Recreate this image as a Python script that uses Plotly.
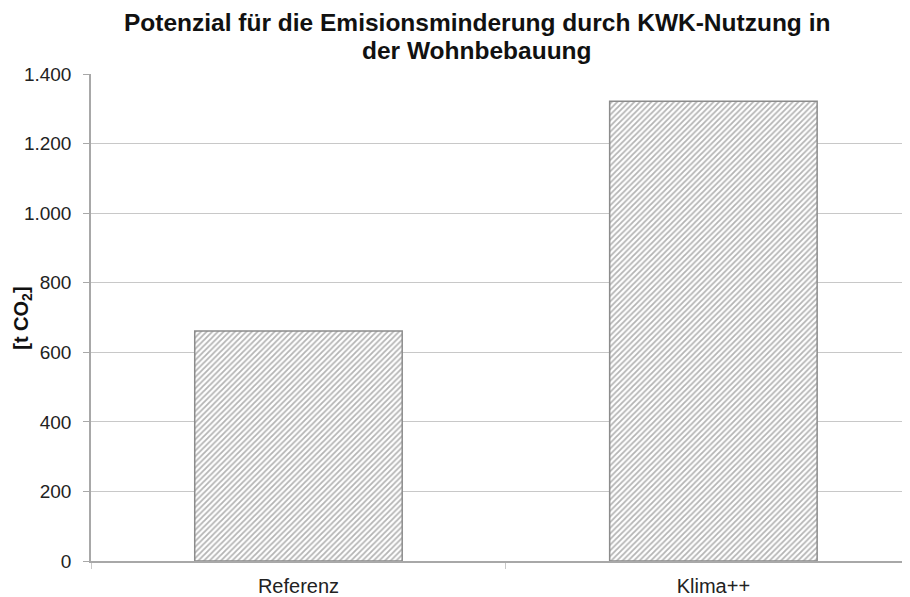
import plotly.graph_objects as go

categories = ["Referenz", "Klima++"]
values = [661, 1322]
y_ticks = [0, 200, 400, 600, 800, 1000, 1200, 1400]
title_lines = ["Potenzial für die Emisionsminderung durch KWK-Nutzung in", "der Wohnbebauung"]

fig = go.Figure()
fig.add_trace(go.Bar(
    x=categories, y=values, width=0.5,
    marker=dict(
        color="white",
        line=dict(color="#8c8c8c", width=1.5),
        pattern=dict(shape="/", fgcolor="#6a6a6a", bgcolor="white", size=4, solidity=0.45),
    ),
))

title_ys = [1.106, 1.048]
annotations = [
    dict(
        text="<b>" + t + "</b>",
        xref="paper", yref="paper", x=0.4725, y=yy, xanchor="center", yanchor="middle",
        showarrow=False, font=dict(size=24.5, color="#111"),
    )
    for t, yy in zip(title_lines, title_ys)
]
annotations.append(dict(
    text="<b>[t CO<sub>2</sub>]</b>",
    xref="paper", yref="paper", x=-0.0835, y=0.499, xanchor="center", yanchor="middle",
    textangle=-90, showarrow=False, font=dict(size=20, color="#111"),
))

fig.update_layout(
    width=902, height=589,
    margin=dict(l=83, r=2, t=66, b=36, autoexpand=False),
    paper_bgcolor="white", plot_bgcolor="white",
    separators=",.",
    showlegend=False,
    font=dict(family="Liberation Sans, Arial, sans-serif", color="#222", size=17),
    bargap=0.5,
    annotations=annotations,
)
fig.update_xaxes(
    range=[-0.5, 1.469],
    showline=True, linecolor="#a8a8a8", linewidth=1.5,
    ticks="outside", tickson="boundaries", ticklen=6, tickcolor="#c8c8c8",
    showgrid=False, tickfont=dict(size=20), automargin=False,
    ticklabelstandoff=6,
)
fig.update_yaxes(
    range=[0, 1400], tickvals=y_ticks, tickformat=",d",
    showline=True, linecolor="#a8a8a8", linewidth=1.5,
    ticks="outside", ticklen=6, tickcolor="#a8a8a8",
    showgrid=True, gridcolor="#c8c8c8", gridwidth=1.2,
    zeroline=False, automargin=False,
    tickfont=dict(size=19), ticklabelstandoff=8,
)

fig.write_html("out.html")
